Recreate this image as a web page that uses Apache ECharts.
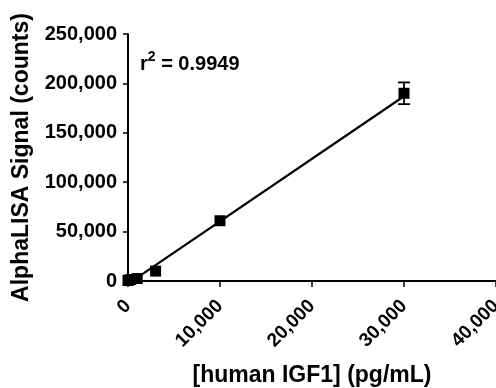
<!DOCTYPE html>
<html>
<head>
<meta charset="utf-8">
<script src="https://cdn.jsdelivr.net/npm/echarts@6/dist/echarts.min.js"></script>
<style>
html,body{margin:0;padding:0;background:#fff;}
#chart{width:496px;height:388px;}
</style>
</head>
<body>
<div id="chart"></div>
<script>
// Data
var concentration = [0, 100, 300, 1000, 3000, 10000, 30000];
var signal = [500, 900, 1500, 2500, 10000, 61000, 190000];
var signalErr = [0, 0, 0, 0, 0, 0, 11000];
var fitX = [0, 30000];
var fitY = [-3000, 187000];
var xTicks = [0, 10000, 20000, 30000, 40000];
var yTicks = [0, 50000, 100000, 150000, 200000, 250000];
var rSquared = '0.9949';
var xTitle = '[human IGF1] (pg/mL)';
var yTitle = 'AlphaLISA Signal (counts)';

var FONT = '"Liberation Sans", Arial, sans-serif';
function fmt(v){ return String(v).replace(/\B(?=(\d{3})+(?!\d))/g, ','); }

var points = concentration.map(function(c, i){ return [c, signal[i]]; });
var errData = concentration.map(function(c, i){ return [c, signal[i] - signalErr[i], signal[i] + signalErr[i]]; })
  .filter(function(d, i){ return signalErr[i] > 0; });
var fitData = fitX.map(function(x, i){ return [x, fitY[i]]; });

var chart = echarts.init(document.getElementById('chart'), null, {renderer:'canvas'});
chart.setOption({
  animation: false,
  backgroundColor: '#fff',
  grid: {left: 128, right: 0, top: 34, bottom: 107, containLabel: false, outerBoundsMode: 'none'},
  xAxis: {
    type: 'value', min: xTicks[0], max: xTicks[xTicks.length-1], interval: xTicks[1]-xTicks[0],
    splitLine: {show: false},
    axisLine: {onZero: false, lineStyle: {color: '#000', width: 2}},
    axisTick: {show: true, length: 6, lineStyle: {color: '#000', width: 1.5}},
    axisLabel: {rotate: 45, margin: 22, color: '#000', fontFamily: FONT, fontWeight: 'bold', fontSize: 19,
      formatter: function(v){ return fmt(v); }, showMaxLabel: true},
    name: xTitle, nameLocation: 'middle', nameGap: 83,
    nameTextStyle: {color: '#000', fontFamily: FONT, fontWeight: 'bold', fontSize: 23}
  },
  yAxis: {
    type: 'value', min: yTicks[0], max: yTicks[yTicks.length-1], interval: yTicks[1]-yTicks[0],
    splitLine: {show: false},
    axisLine: {onZero: false, lineStyle: {color: '#000', width: 2}},
    axisTick: {show: true, length: 5, lineStyle: {color: '#000', width: 1.5}},
    axisLabel: {margin: 11, color: '#000', fontFamily: FONT, fontWeight: 'bold', fontSize: 20,
      formatter: function(v){ return fmt(v); }},
    name: yTitle, nameLocation: 'middle', nameGap: 95,
    nameTextStyle: {color: '#000', fontFamily: FONT, fontWeight: 'bold', fontSize: 23}
  },
  graphic: [{
    type: 'text', left: 140, top: 50,
    style: {
      text: '{r|r}{s|2}{r| = ' + rSquared + '}',
      rich: {
        r: {fontFamily: FONT, fontWeight: 'bold', fontSize: 20, fill: '#000', verticalAlign: 'bottom', lineHeight: 24},
        s: {fontFamily: FONT, fontWeight: 'bold', fontSize: 14, fill: '#000', verticalAlign: 'top', lineHeight: 24}
      }
    }
  }],
  series: [
    {
      type: 'line', data: fitData, showSymbol: false, symbol: 'none', clip: false,
      lineStyle: {color: '#000', width: 2.2}, z: 2
    },
    {
      type: 'custom', data: errData, clip: false, z: 3,
      renderItem: function(params, api){
        var x = api.value(0);
        var lo = api.coord([x, api.value(1)]);
        var hi = api.coord([x, api.value(2)]);
        var hw = 6;
        var st = {stroke: '#000', lineWidth: 1.8};
        return {type: 'group', children: [
          {type: 'line', shape: {x1: lo[0], y1: lo[1], x2: hi[0], y2: hi[1]}, style: st},
          {type: 'line', shape: {x1: lo[0]-hw, y1: lo[1], x2: lo[0]+hw, y2: lo[1]}, style: st},
          {type: 'line', shape: {x1: hi[0]-hw, y1: hi[1], x2: hi[0]+hw, y2: hi[1]}, style: st}
        ]};
      }
    },
    {
      type: 'scatter', data: points, symbol: 'rect', symbolSize: 11, clip: false,
      itemStyle: {color: '#000', opacity: 1}, z: 4
    }
  ]
});
</script>
</body>
</html>
